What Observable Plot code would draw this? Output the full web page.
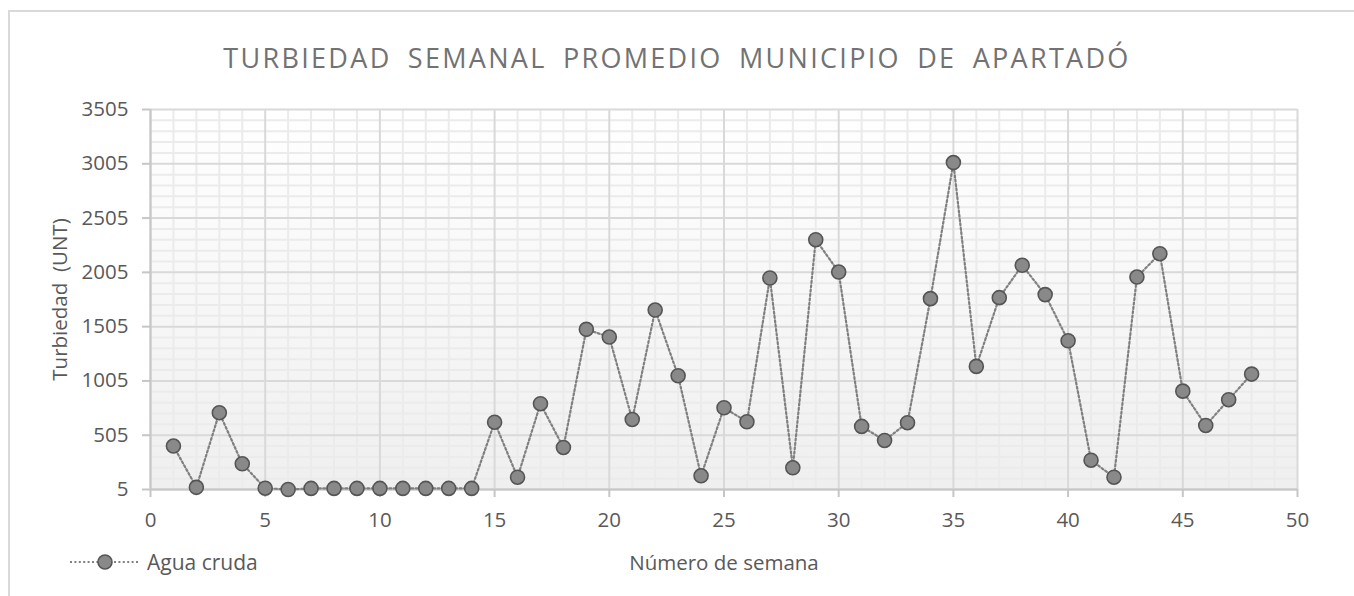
<!DOCTYPE html>
<html><head><meta charset="utf-8">
<script src="https://cdn.jsdelivr.net/npm/d3@7"></script>
<script src="https://cdn.jsdelivr.net/npm/@observablehq/plot@0.6"></script>
<style>
body{margin:0;background:#fff;font-family:"Open Sans",sans-serif;}
#wrap{position:relative;width:1354px;height:596px;overflow:hidden;background:#fff;}
#frame{position:absolute;left:8px;top:10px;width:2000px;height:1000px;border-left:2px solid #d9d9d9;border-top:2px solid #d9d9d9;}
#title{position:absolute;left:0;top:44px;width:1354px;text-align:center;font-size:27px;line-height:27px;letter-spacing:2.3px;word-spacing:7px;color:#727272;white-space:nowrap;}
#chart{position:absolute;left:0;top:0;}
#legend{position:absolute;left:70px;top:551px;display:flex;align-items:center;font-size:21px;color:#595959;line-height:22px;}
</style>
</head><body>
<div id="wrap">
  <div id="frame"></div>
  <div id="chart"></div>
  <div id="title">TURBIEDAD SEMANAL PROMEDIO MUNICIPIO DE APARTADÓ</div>
  <div id="legend"></div>
</div>
<script>
const weeks = [1,2,3,4,5,6,7,8,9,10,11,12,13,14,15,16,17,18,19,20,21,22,23,24,25,26,27,28,29,30,31,32,33,34,35,36,37,38,39,40,41,42,43,44,45,46,47,48];
const turbidity = [405,25,712,242,17,5,15,15,15,15,15,15,15,15,625,118,795,392,1480,1409,650,1658,1053,131,758,629,1953,205,2306,2008,586,457,620,1763,3016,1139,1772,2070,1800,1375,275,118,1962,2177,911,595,832,1068];
const seriesName = "Agua cruda";
const xTicks = [0,5,10,15,20,25,30,35,40,45,50];
const yTicks = [5,505,1005,1505,2005,2505,3005,3505];
const xLabel = "Número de semana";
const yLabel = "Turbiedad\u00a0\u00a0(UNT)";

const data = weeks.map((w, i) => ({week: w, value: turbidity[i]}));
const xMinor = d3.range(1, 50).filter(v => v % 5 !== 0);
const yMinor = d3.range(105, 3505, 100).filter(v => (v - 5) % 500 !== 0);

const defsMark = () => {
  const defs = d3.create("svg:defs");
  const g = defs.append("linearGradient").attr("id", "bg").attr("x1", 0).attr("y1", 0).attr("x2", 0).attr("y2", 1);
  g.append("stop").attr("offset", "0%").attr("stop-color", "#ffffff");
  g.append("stop").attr("offset", "100%").attr("stop-color", "#efefef");
  return defs.node();
};

const chart = Plot.plot({
  width: 1354,
  height: 596,
  marginLeft: 150,
  marginRight: 57,
  marginTop: 109,
  marginBottom: 107,
  style: {fontFamily: "Open Sans", fontSize: "20.5px", color: "#595959", background: "transparent", overflow: "visible"},
  x: {domain: [0, 50]},
  y: {domain: [5, 3505]},
  marks: [
    defsMark,
    Plot.frame({fill: "url(#bg)", stroke: null}),
    Plot.ruleX(xMinor, {stroke: "#ebebeb", strokeWidth: 2}),
    Plot.ruleY(yMinor, {stroke: "#ebebeb", strokeWidth: 2}),
    Plot.ruleX(xTicks, {stroke: "#d9d9d9", strokeWidth: 2}),
    Plot.ruleY(yTicks, {stroke: "#d9d9d9", strokeWidth: 2}),
    Plot.ruleX([0], {stroke: "#c6c6c6", strokeWidth: 2}),
    Plot.ruleY([5], {stroke: "#c6c6c6", strokeWidth: 2}),
    Plot.axisY({ticks: yTicks, tickSize: 8, tickPadding: 14, stroke: "#c6c6c6", strokeWidth: 2,
      tickFormat: d => String(d), label: yLabel, labelAnchor: "center", labelOffset: 98, labelArrow: "none", fontSize: 20.5}),
    Plot.axisX({ticks: xTicks, tickSize: 8, tickPadding: 15, stroke: "#c6c6c6", strokeWidth: 2,
      tickFormat: d => String(d), label: xLabel, labelAnchor: "center", labelOffset: 80, labelArrow: "none", fontSize: 20.5}),
    Plot.line(data, {x: "week", y: "value", stroke: "#808080", strokeWidth: 2.2, strokeDasharray: "2 2.4"}),
    Plot.dot(data, {x: "week", y: "value", r: 7, fill: "#898989", stroke: "#555555", strokeWidth: 1.6})
  ]
});
document.getElementById("chart").appendChild(chart);

// legend
const leg = document.getElementById("legend");
const sw = d3.create("svg").attr("width", 68).attr("height", 22).style("margin-right", "9px");
sw.append("line").attr("x1", 0).attr("x2", 68).attr("y1", 11).attr("y2", 11)
  .attr("stroke", "#808080").attr("stroke-width", 2.2).attr("stroke-dasharray", "2 2.4");
sw.append("circle").attr("cx", 35).attr("cy", 11).attr("r", 7)
  .attr("fill", "#898989").attr("stroke", "#555555").attr("stroke-width", 1.6);
leg.appendChild(sw.node());
const lt = document.createElement("span");
lt.textContent = seriesName;
leg.appendChild(lt);
</script>
</body></html>
